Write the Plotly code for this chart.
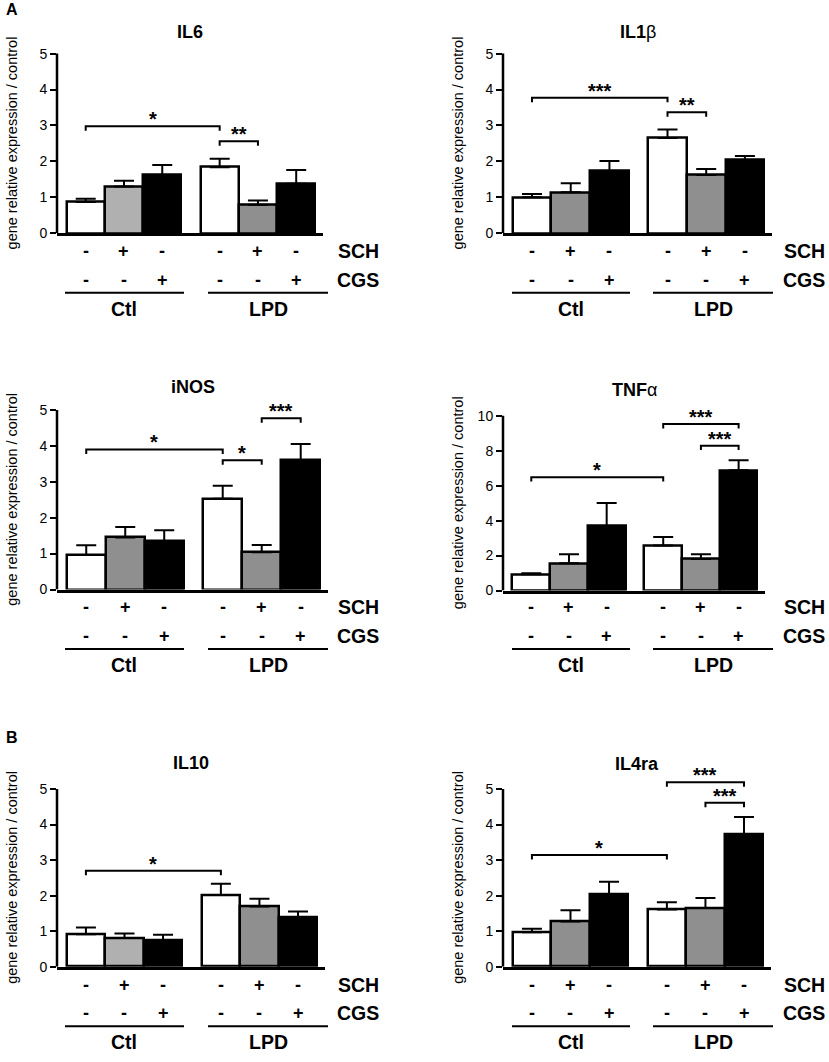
import plotly.graph_objects as go

W, H = 829, 1062
FONT = "Liberation Sans, Arial, sans-serif"

# ---- data ----
titles = ["<b>IL6</b>", "<b>IL1</b>β", "<b>iNOS</b>", "<b>TNF</b>α", "<b>IL10</b>", "<b>IL4ra</b>"]
positions = [0, 1, 2, 3.5, 4.5, 5.5]
sch = ["-", "+", "-", "-", "+", "-"]
cgs = ["-", "-", "+", "-", "-", "+"]
groups = ["Ctl", "LPD"]

il6_mean = [0.87, 1.30, 1.62, 1.84, 0.79, 1.38]
il6_sem = [0.09, 0.16, 0.28, 0.23, 0.12, 0.38]
il1b_mean = [1.00, 1.14, 1.73, 2.65, 1.62, 2.04]
il1b_sem = [0.09, 0.25, 0.28, 0.24, 0.17, 0.11]
inos_mean = [0.96, 1.45, 1.35, 2.53, 1.04, 3.60]
inos_sem = [0.27, 0.29, 0.30, 0.36, 0.20, 0.45]
tnfa_mean = [0.93, 1.56, 3.70, 2.58, 1.80, 6.89]
tnfa_sem = [0.06, 0.51, 1.31, 0.49, 0.27, 0.57]
il10_mean = [0.91, 0.81, 0.73, 2.02, 1.69, 1.39]
il10_sem = [0.19, 0.12, 0.17, 0.31, 0.22, 0.16]
il4ra_mean = [0.97, 1.27, 2.04, 1.61, 1.65, 3.73]
il4ra_sem = [0.10, 0.32, 0.35, 0.20, 0.28, 0.48]

axis_max = [5, 5, 5, 10, 5, 5]

# significance brackets: (from, to, height, label)
il6_sig = [(0, 3.5, 2.98, "*"), (3.5, 4.5, 2.56, "**")]
il1b_sig = [(0, 3.5, 3.77, "***"), (3.5, 4.5, 3.37, "**")]
inos_sig = [(0, 3.5, 3.90, "*"), (3.5, 4.5, 3.60, "*"), (4.5, 5.5, 4.77, "***")]
tnfa_sig = [(0, 3.5, 6.49, "*"), (3.5, 5.5, 9.53, "***"), (4.5, 5.5, 8.29, "***")]
il10_sig = [(0, 3.5, 2.70, "*")]
il4ra_sig = [(0, 3.5, 3.14, "*"), (3.5, 5.5, 5.19, "***"), (4.5, 5.5, 4.61, "***")]

means = [il6_mean, il1b_mean, inos_mean, tnfa_mean, il10_mean, il4ra_mean]
sems = [il6_sem, il1b_sem, inos_sem, tnfa_sem, il10_sem, il4ra_sem]
sigs = [il6_sig, il1b_sig, inos_sig, tnfa_sig, il10_sig, il4ra_sig]

# ---- styling / layout ----
LIGHT, DARK = "#b0b0b0", "#8f8f8f"
fills = [
    ["white", LIGHT, "black", "white", DARK, "black"],
    ["white", DARK, "black", "white", DARK, "black"],
    ["white", DARK, "black", "white", DARK, "black"],
    ["white", DARK, "black", "white", DARK, "black"],
    ["white", LIGHT, "black", "white", DARK, "black"],
    ["white", DARK, "black", "white", DARK, "black"],
]

# pixel boxes: spine x, axis right end, y of 0, y of axis max, title y
boxes = [
    (57, 323, 235, 54, 32),
    (503, 772, 235, 54, 32),
    (57, 328, 594, 413, 390),
    (503, 765, 595, 419, 393),
    (57, 325, 974, 795, 769),
    (503, 771, 974, 795, 770),
]
row_base = [235, 235, 594, 594, 974, 974]
XRANGE = [-0.75, 6.2]
HEAD = 1.15


def fx(px):
    return px / W


def fy(py):
    return 1 - py / H


def label(x, y, text, size, xref="paper", yref="paper", **kw):
    d = dict(xref=xref, yref=yref, x=x, y=y, text=text, showarrow=False,
             xanchor="center", yanchor="middle",
             font=dict(size=size, color="black", family=FONT))
    d.update(kw)
    return d


fig = go.Figure()
annotations = []
shapes = []

for i in range(6):
    n = i + 1
    xa = "x" if n == 1 else f"x{n}"
    ya = "y" if n == 1 else f"y{n}"
    spine, right, y0, ymx, ttl = boxes[i]
    amax = axis_max[i]
    top = amax * HEAD
    top_px = y0 - (y0 - ymx) * HEAD

    fig.add_trace(go.Bar(
        x=positions, y=means[i], width=1,
        marker=dict(color=fills[i], line=dict(color="black", width=2.5)),
        error_y=dict(type="data", array=sems[i], arrayminus=[0] * 6,
                     symmetric=False, color="black", thickness=2, width=10),
        xaxis=xa, yaxis=ya, hoverinfo="skip",
    ))

    step = 2 if amax == 10 else 1
    fig.update_layout({
        ("xaxis" if n == 1 else f"xaxis{n}"): dict(
            domain=[fx(spine), fx(right)], range=XRANGE, anchor=ya,
            showline=True, linecolor="black", linewidth=2.5,
            showticklabels=False, ticks="", showgrid=False, zeroline=False,
        ),
        ("yaxis" if n == 1 else f"yaxis{n}"): dict(
            domain=[fy(y0), fy(top_px)], range=[0, top], anchor=xa,
            tickvals=list(range(0, amax + 1, step)), ticks="outside",
            ticklen=6, tickwidth=2, tickcolor="black",
            tickfont=dict(size=14, color="black", family=FONT),
            showline=False, showgrid=False, zeroline=False,
        ),
    })

    # y spine only up to the axis max
    shapes.append(dict(type="line", xref=f"{xa} domain", yref=ya,
                       x0=0, x1=0, y0=0, y1=amax,
                       line=dict(color="black", width=2.5)))

    # significance brackets
    drop = 0.025 * amax
    for a, b, h, lab in sigs[i]:
        shapes.append(dict(type="path", xref=xa, yref=ya,
                           path=f"M{a},{h - drop} L{a},{h} L{b},{h} L{b},{h - drop}",
                           line=dict(color="black", width=2)))
        annotations.append(label((a + b) / 2, h, f"<b>{lab}</b>", 20,
                                 xref=xa, yref=ya, yanchor="bottom", yshift=-6))

    # title
    annotations.append(label(fx((spine + right) / 2), fy(ttl), titles[i], 18))

    # y axis title
    annotations.append(label(fx(spine - 45), fy((y0 + ymx) / 2),
                             "gene relative expression / control", 14.5, textangle=-90))

    # treatment rows
    base = row_base[i]
    for k, pos in enumerate(positions):
        for sym, off in ((sch[k], 18), (cgs[k], 47)):
            annotations.append(label(pos, fy(base + off), f"<b>{sym}</b>", 18, xref=xa))
    col_off = 0 if spine < 400 else 446
    for lab, off in (("SCH", 18), ("CGS", 47)):
        annotations.append(label(fx(358 + col_off), fy(base + off), f"<b>{lab}</b>", 19.5))

    # group underlines and labels
    if col_off == 0:
        spans = [(65, 184), (208, 328)]
    else:
        spans = [(512, 630), (653, 773)]
    for (g0, g1), lab in zip(spans, groups):
        shapes.append(dict(type="line", xref="paper", yref="paper",
                           x0=fx(g0), x1=fx(g1), y0=fy(base + 60), y1=fy(base + 60),
                           line=dict(color="black", width=2)))
        annotations.append(label(fx((g0 + g1) / 2), fy(base + 76), f"<b>{lab}</b>", 19.5))

# panel letters
for lab, py in (("A", 10), ("B", 743)):
    annotations.append(label(fx(12), fy(py), f"<b>{lab}</b>", 16))

fig.update_layout(
    width=W, height=H, margin=dict(l=0, r=0, t=0, b=0),
    paper_bgcolor="white", plot_bgcolor="white", showlegend=False,
    font=dict(family=FONT, color="black"),
    annotations=annotations, shapes=shapes, bargap=0,
)

fig.write_html("out.html", config={"displayModeBar": False},
               post_script="document.body.style.margin='0';")
